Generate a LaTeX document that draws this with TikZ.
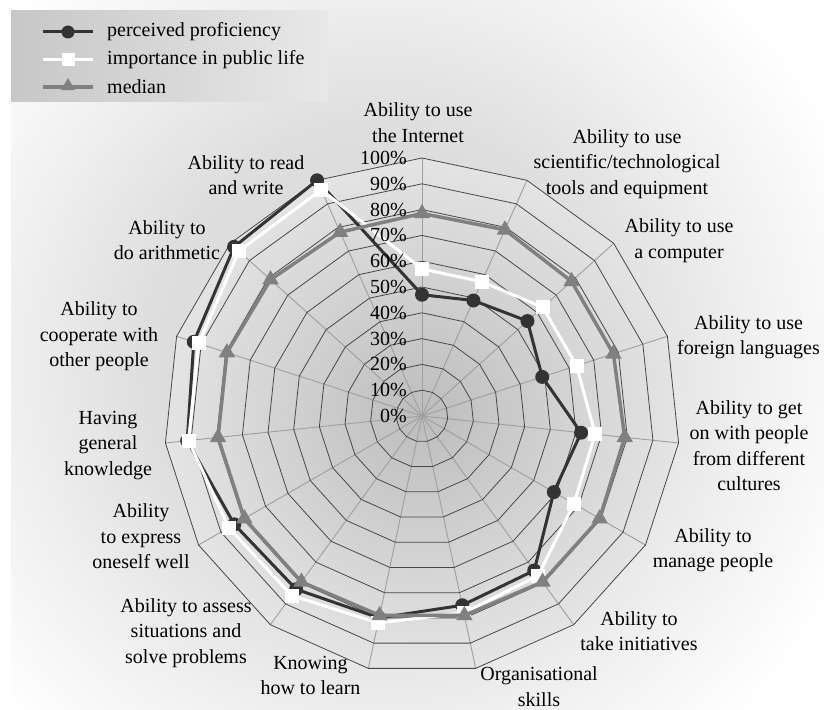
\documentclass[tikz,border=0pt]{standalone}
\usepackage{fontspec}
\setmainfont{Liberation Serif}
\usetikzlibrary{shapes.geometric}
\definecolor{bgA}{gray}{0.84}
\definecolor{bgB}{gray}{0.87}
\definecolor{bgD}{gray}{0.94}
\definecolor{bgC}{gray}{1}
\definecolor{plA}{gray}{0.74}
\definecolor{plB}{gray}{0.895}
\definecolor{darkser}{gray}{0.20}
\definecolor{medser}{gray}{0.50}
% the central 50bp x 50bp square of a shading covers the path's bounding box
\pgfdeclareradialshading{bgshade}{\pgfpoint{0bp}{0bp}}{color(0bp)=(bgA); color(10bp)=(bgB); color(16bp)=(bgD); color(22bp)=(bgC); color(50bp)=(bgC)}
\pgfdeclareradialshading{plotshade}{\pgfpoint{0bp}{0bp}}{color(0bp)=(plA); color(25bp)=(plB); color(50bp)=(plB)}
\begin{document}
\begin{tikzpicture}[x=1pt,y=-1pt,
  ring/.style={draw=black!72,line width=0.8pt},
  spoke/.style={draw=black!38,line width=0.9pt},
  pline/.style={draw=darkser,line width=3pt,line join=round},
  wline/.style={draw=white,line width=3pt,line join=round},
  gline/.style={draw=medser,line width=3.5pt,line join=round},
  pdot/.style={circle,fill=darkser,draw=none,minimum size=14pt,inner sep=0pt},
  wsq/.style={rectangle,fill=white,draw=none,minimum size=14pt,inner sep=0pt},
  gtri/.style={regular polygon,regular polygon sides=3,fill=medser,draw=none,minimum size=19pt,inner sep=0pt},
  lab/.style={align=center,inner sep=0pt,font=\fontsize{20}{25.5}\selectfont},
  pct/.style={anchor=east,inner sep=0pt,font=\fontsize{20}{24}\selectfont},
  legtext/.style={anchor=west,inner sep=0pt,font=\fontsize{20}{24}\selectfont}]
\useasboundingbox (0,0) rectangle (824,709);
% background
\fill[white] (0,0) rectangle (824,709);
\begin{scope}
\clip (11,0) rectangle (824,709);
\shade[shading=bgshade] (380,360) circle (580);
\end{scope}
% legend
\shade[left color=black!22,right color=black!9] (11,11) rectangle (328,101);
\coordinate (l1a) at (43,32); \coordinate (l1b) at (93,32);
\coordinate (l2a) at (43,60); \coordinate (l2b) at (93,60);
\coordinate (l3a) at (43,87); \coordinate (l3b) at (93,87);
\draw[pline] (l1a) -- (l1b);
\node[pdot,minimum size=13pt] (l1m) at (68,32) {};
\draw[wline] (l2a) -- (l2b);
\node[wsq,minimum size=13pt] (l2m) at (68,60) {};
\draw[gline] (l3a) -- (l3b);
\node[gtri,minimum size=16pt] (l3m) at (68,86) {};
\node[legtext] (l1t) at (107,32) {perceived proficiency};
\node[legtext] (l2t) at (107,60) {importance in public life};
\node[legtext] (l3t) at (107,87) {median};
% radar
\begin{scope}[shift={(422,416)}]
\coordinate (c) at (0,0);
\foreach \i in {0,...,14}{\coordinate (s\i) at (-90+24*\i:258);}
\shade[shading=plotshade] (s0) \foreach \i in {1,...,14}{ -- (s\i)} -- cycle;
\foreach \i in {0,...,14}{\draw[spoke] (c) -- (s\i);}
\foreach \k in {1,...,10}{
  \draw[ring] (-90:25.8*\k) \foreach \i in {1,...,14}{ -- (-90+24*\i:25.8*\k)} -- cycle;
}
% data
\foreach \v [count=\i from 0] in {47,49,55,49,62,59,74,75,80,83,84,91.5,93,98,100}{
  \coordinate (p\i) at (-90+24*\i:2.58*\v);}
\foreach \v [count=\i from 0] in {57,57,63,63,67.5,68,76.5,78,82,86,86.5,91,91,95.5,96}{
  \coordinate (w\i) at (-90+24*\i:2.58*\v);}
\foreach \v [count=\i from 0] in {78.5,79,78,78,79,79.5,79.5,79,79,79.5,79.5,79.5,79.5,79,78}{
  \coordinate (g\i) at (-90+24*\i:2.58*\v);}
\draw[pline] (p0) \foreach \i in {1,...,14}{ -- (p\i)} -- cycle;
\foreach \i in {0,...,14}{\node[pdot] (pm\i) at (p\i) {};}
\draw[wline] (w0) \foreach \i in {1,...,14}{ -- (w\i)} -- cycle;
\foreach \i in {0,...,14}{\node[wsq] (wm\i) at (w\i) {};}
\draw[gline] (g0) \foreach \i in {1,...,14}{ -- (g\i)} -- cycle;
\foreach \i in {0,...,14}{\node[gtri] (gm\i) at (g\i) {};}
\end{scope}
% percent labels
\foreach \k in {0,...,10}{
  \pgfmathtruncatemacro\pv{10*\k}
  \node[pct] (pct\k) at (407,416-25.8*\k) {\pv\%};
}
% category labels
\node[lab] (lab0) at (418,122.5) {Ability to use\\the Internet};
\node[lab] (lab1) at (627,164) {Ability to use\\scientific/technological\\tools and equipment};
\node[lab] (lab2) at (679,240.5) {Ability to use\\a computer};
\node[lab] (lab3) at (748.5,337) {Ability to use\\foreign languages};
\node[lab] (lab4) at (749,445.5) {Ability to get\\on with people\\from different\\cultures};
\node[lab] (lab5) at (713,550) {Ability to\\manage people};
\node[lab] (lab6) at (639,631) {Ability to\\take initiatives};
\node[lab] (lab7) at (539,686.5) {Organisational\\skills};
\node[lab] (lab8) at (310.5,675.5) {Knowing\\how to learn};
\node[lab] (lab9) at (186,633) {Ability to assess\\situations and\\solve problems};
\node[lab] (lab10) at (141,536.5) {Ability\\to express\\oneself well};
\node[lab] (lab11) at (108,445.5) {Having\\general\\knowledge};
\node[lab] (lab12) at (99,336.5) {Ability to\\cooperate with\\other people};
\node[lab] (lab13) at (167,240) {Ability to\\do arithmetic};
\node[lab] (lab14) at (246,175) {Ability to read\\and write};
\end{tikzpicture}
\end{document}
